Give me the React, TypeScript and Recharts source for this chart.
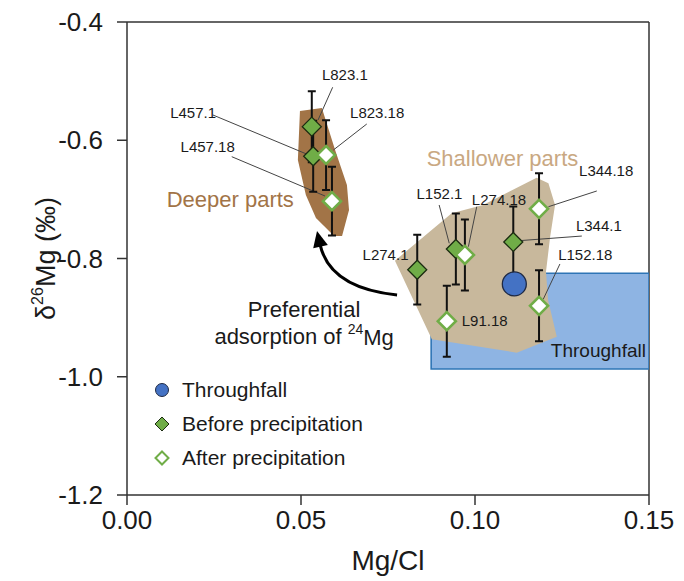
import React from "react";
import { ScatterChart, Scatter, XAxis, YAxis, ReferenceLine, Legend } from "recharts";

const FONT = '"Liberation Sans", Arial, sans-serif';

const xTicks = [0, 0.05, 0.1, 0.15];
const yTicks = [-1.2, -1.0, -0.8, -0.6, -0.4];

// samples before precipitation (filled diamonds)
const beforeNames = ["L823.1", "L457.1", "L274.1", "L152.1", "L344.1"];
const beforeX = [0.0531, 0.0535, 0.0834, 0.0945, 0.111];
const beforeY = [-0.577, -0.627, -0.819, -0.784, -0.772];
const beforeErr = [0.06, 0.06, 0.059, 0.06, 0.06];

// samples after precipitation (open diamonds)
const afterNames = ["L823.18", "L457.18", "L274.18", "L91.18", "L344.18", "L152.18"];
const afterX = [0.0572, 0.0589, 0.0971, 0.0919, 0.1184, 0.1184];
const afterY = [-0.625, -0.703, -0.794, -0.906, -0.716, -0.88];
const afterErr = [0.059, 0.058, 0.06, 0.06, 0.06, 0.06];

const throughfallX = [0.1113];
const throughfallY = [-0.843];

// outlines of the shaded regions
const deeperX = [0.0497, 0.056, 0.0598, 0.0632, 0.0638, 0.0618, 0.0595, 0.0543, 0.0514, 0.0491];
const deeperY = [-0.5505, -0.5455, -0.6165, -0.6757, -0.718, -0.762, -0.762, -0.7315, -0.6926, -0.6334];
const shallowX = [0.077, 0.0933, 0.1023, 0.1177, 0.1211, 0.123, 0.1216, 0.1204, 0.121, 0.1235, 0.112, 0.0876];
const shallowY = [-0.8037, -0.7236, -0.7095, -0.6633, -0.6728, -0.7095, -0.7631, -0.8223, -0.8702, -0.9323, -0.9593, -0.9367];
const boxX = [0.0874, 0.15, 0.15, 0.0874];
const boxY = [-0.825, -0.825, -0.987, -0.987];

// sample labels (left edge, middle) and leader lines
const labelText = ["L823.1", "L823.18", "L457.1", "L457.18", "L152.1", "L274.18", "L344.18", "L344.1", "L152.18", "L91.18", "L274.1"];
const labelX = [0.056, 0.0641, 0.0124, 0.0154, 0.0832, 0.0991, 0.1299, 0.129, 0.1239, 0.0962, 0.0677];
const labelY = [-0.488, -0.5539, -0.5534, -0.6114, -0.6897, -0.6994, -0.6515, -0.745, -0.794, -0.9057, -0.7929];

const leaderX = [
  0.0591, 0.0549, 0.0689, 0.0593, 0.0247, 0.0516, 0.0301, 0.0569, 0.0897,
  0.0926, 0.1005, 0.0981, 0.135, 0.1211, 0.1307, 0.1124, 0.1244, 0.1196,
];
const leaderY = [
  -0.5104, -0.5657, -0.5725, -0.6165, -0.5573, -0.6233, -0.6278, -0.6943, -0.7095,
  -0.7743, -0.7124, -0.78, -0.6858, -0.7124, -0.762, -0.77, -0.8093, -0.869,
];

// curved arrow: tail, control, head
const arrowX = [0.0776, 0.0583, 0.0546];
const arrowY = [-0.8617, -0.8499, -0.7535];

const legendItems = [
  { label: "Throughfall", kind: "circle" },
  { label: "Before precipitation", kind: "filled" },
  { label: "After precipitation", kind: "open" },
];

const zip = (xs: number[], ys: number[]) => xs.map((x, i) => ({ x, y: ys[i] }));

const before = beforeNames.map((name, i) => ({ name, x: beforeX[i], y: beforeY[i] }));
const after = afterNames.map((name, i) => ({ name, x: afterX[i], y: afterY[i] }));
const throughfall = zip(throughfallX, throughfallY);
const labels = labelText.map((text, i) => ({ text, x: labelX[i], y: labelY[i] }));

// error bar ends: pairs of (top, bottom) points
const errorEnds = [...zip(beforeX, beforeY).map((p, i) => ({ ...p, e: beforeErr[i] })), ...zip(afterX, afterY).map((p, i) => ({ ...p, e: afterErr[i] }))].flatMap(
  (p) => [
    { x: p.x, y: p.y + p.e },
    { x: p.x, y: p.y - p.e },
  ]
);

const GREEN = "#70AD47";

const noShape = () => <g />;

const toPath = (pts: { x: number; y: number }[], close: boolean) =>
  pts.map((q, i) => `${i ? "L" : "M"}${q.x},${q.y}`).join(" ") + (close ? " Z" : "");

const polygonLine = (fill: string, stroke = "none") => (p: any) => (
  <path d={toPath(p.points, true)} fill={fill} stroke={stroke} strokeWidth={1.6} />
);

const leaderLines = (p: any) => {
  const pts = p.points;
  let d = "";
  for (let i = 0; i + 1 < pts.length; i += 2) {
    d += `M${pts[i].x},${pts[i].y} L${pts[i + 1].x},${pts[i + 1].y} `;
  }
  return <path d={d} fill="none" stroke="#444" strokeWidth={1} />;
};

const errorLines = (p: any) => {
  const pts = p.points;
  const cap = 4;
  let d = "";
  for (let i = 0; i + 1 < pts.length; i += 2) {
    const a = pts[i];
    const b = pts[i + 1];
    d += `M${a.x},${a.y} L${b.x},${b.y} M${a.x - cap},${a.y} L${a.x + cap},${a.y} M${b.x - cap},${b.y} L${b.x + cap},${b.y} `;
  }
  return <path d={d} fill="none" stroke="#111" strokeWidth={2} />;
};

const arrowLine = (p: any) => {
  const [a, c, b] = p.points;
  const dx = b.x - c.x;
  const dy = b.y - c.y;
  const len = Math.hypot(dx, dy) || 1;
  const ux = dx / len;
  const uy = dy / len;
  const hl = 16;
  const hw = 7.5;
  const bx = b.x - ux * hl;
  const by = b.y - uy * hl;
  const head = `${b.x},${b.y} ${bx - uy * hw},${by + ux * hw} ${bx + uy * hw},${by - ux * hw}`;
  return (
    <g>
      <path d={`M${a.x},${a.y} Q${c.x},${c.y} ${bx + ux * 2},${by + uy * 2}`} fill="none" stroke="#000" strokeWidth={3} />
      <polygon points={head} fill="#000" />
    </g>
  );
};

const filledDiamond = (p: any) => {
  const { cx, cy } = p;
  const r = 9.5;
  return (
    <polygon
      points={`${cx},${cy - r} ${cx + r},${cy} ${cx},${cy + r} ${cx - r},${cy}`}
      fill={GREEN}
      stroke="#1b2b10"
      strokeWidth={1.3}
    />
  );
};

const openDiamond = (p: any) => {
  const { cx, cy } = p;
  const r = 9;
  return (
    <polygon
      points={`${cx},${cy - r} ${cx + r},${cy} ${cx},${cy + r} ${cx - r},${cy}`}
      fill="#fff"
      stroke={GREEN}
      strokeWidth={2.6}
    />
  );
};

const bigCircle = (p: any) => <circle cx={p.cx} cy={p.cy} r={12} fill="#4472C4" stroke="#1f2a44" strokeWidth={1.3} />;

const textShape = (size: number, color: string, anchor: "start" | "middle" = "start") => (p: any) => (
  <text
    x={p.cx}
    y={p.cy}
    fontSize={size}
    fill={color}
    fontFamily={FONT}
    textAnchor={anchor}
    dominantBaseline="central"
  >
    {p.payload.text}
  </text>
);

function LegendMarker({ kind }: { kind: string }) {
  if (kind === "circle") return <circle cx={10} cy={10} r={6.5} fill="#4472C4" stroke="#1f2a44" strokeWidth={1} />;
  if (kind === "filled")
    return <polygon points="10,3 17,10 10,17 3,10" fill={GREEN} stroke="#1b2b10" strokeWidth={1} />;
  return <polygon points="10,3.5 16.5,10 10,16.5 3.5,10" fill="#fff" stroke={GREEN} strokeWidth={2} />;
}

const renderLegend = () => (
  <div style={{ fontFamily: FONT, fontSize: 21, color: "#1a1a1a" }}>
    {legendItems.map((it) => (
      <div key={it.label} style={{ display: "flex", alignItems: "center", height: 34 }}>
        <svg width={20} height={20} style={{ marginRight: 10 }}>
          <LegendMarker kind={it.kind} />
        </svg>
        <span>{it.label}</span>
      </div>
    ))}
  </div>
);

const renderYLabel = (props: any) => {
  const vb = props.viewBox || { x: 0, y: 22, height: 473 };
  const cx = vb.x + 46;
  const cy = vb.y + vb.height / 2;
  return (
    <text
      x={cx}
      y={cy}
      transform={`rotate(-90 ${cx} ${cy})`}
      textAnchor="middle"
      dominantBaseline="central"
      fontSize={27}
      fontFamily={FONT}
      fill="#1a1a1a"
    >
      δ
      <tspan fontSize={16} dy={-9}>26</tspan>
      <tspan dy={9}>Mg (‰)</tspan>
    </text>
  );
};

const renderXLabel = (props: any) => {
  const vb = props.viewBox || { x: 127, y: 495, width: 522 };
  return (
    <text
      x={vb.x + vb.width / 2}
      y={vb.y + 65}
      textAnchor="middle"
      dominantBaseline="central"
      fontSize={28}
      fontFamily={FONT}
      fill="#1a1a1a"
    >
      Mg/Cl
    </text>
  );
};

export default function App() {
  const tick = { fontSize: 26, fill: "#1a1a1a", fontFamily: FONT };
  const axisLine = { stroke: "#333", strokeWidth: 1.5 };
  return (
    <div style={{ position: "absolute", left: 0, top: 0, background: "#fff" }}>
      <ScatterChart width={684} height={581} margin={{ top: 22, right: 35, left: 0, bottom: 0 }}>
        <XAxis
          type="number"
          dataKey="x"
          domain={[0, 0.15]}
          ticks={xTicks}
          tickFormatter={(v: number) => v.toFixed(2)}
          tick={tick}
          tickSize={10}
          tickMargin={6}
          axisLine={axisLine}
          tickLine={axisLine}
          height={86}
          allowDataOverflow
          label={renderXLabel}
        />
        <YAxis
          type="number"
          dataKey="y"
          domain={[-1.2, -0.4]}
          ticks={yTicks}
          tickFormatter={(v: number) => v.toFixed(1)}
          tick={tick}
          tickSize={10}
          tickMargin={14}
          axisLine={axisLine}
          tickLine={axisLine}
          width={127}
          allowDataOverflow
          label={renderYLabel}
        />
        <ReferenceLine y={-0.4} stroke="#333" strokeWidth={1.5} />
        <ReferenceLine x={0.15} stroke="#333" strokeWidth={1.5} />

        <Scatter data={zip(boxX, boxY)} shape={noShape} line={polygonLine("#8EB4E3", "#2E75B6")} isAnimationActive={false} />
        <Scatter data={zip(shallowX, shallowY)} shape={noShape} line={polygonLine("#C8B89C")} isAnimationActive={false} />
        <Scatter data={zip(deeperX, deeperY)} shape={noShape} line={polygonLine("#A27447")} isAnimationActive={false} />
        <Scatter data={zip(leaderX, leaderY)} shape={noShape} line={leaderLines} isAnimationActive={false} />
        <Scatter data={zip(arrowX, arrowY)} shape={noShape} line={arrowLine} isAnimationActive={false} />
        <Scatter data={errorEnds} shape={noShape} line={errorLines} isAnimationActive={false} />

        <Scatter name="Before precipitation" data={before} shape={filledDiamond} isAnimationActive={false} />
        <Scatter name="After precipitation" data={after} shape={openDiamond} isAnimationActive={false} />
        <Scatter name="Throughfall" data={throughfall} shape={bigCircle} isAnimationActive={false} />

        <Scatter data={labels} shape={textShape(15, "#1a1a1a")} isAnimationActive={false} />
        <Scatter data={[{ x: 0.0114, y: -0.701, text: "Deeper parts" }]} shape={textShape(22, "#A27447")} isAnimationActive={false} />
        <Scatter data={[{ x: 0.0861, y: -0.6317, text: "Shallower parts" }]} shape={textShape(22, "#C9A882")} isAnimationActive={false} />
        <Scatter data={[{ x: 0.1218, y: -0.9548, text: "Throughfall" }]} shape={textShape(19, "#1a1a1a")} isAnimationActive={false} />
        <Scatter data={[{ x: 0.0509, y: -0.8871, text: "Preferential" }]} shape={textShape(22, "#1a1a1a", "middle")} isAnimationActive={false} />
        <Scatter
          data={[{ x: 0.0509, y: -0.9323 }]}
          shape={(p: any) => (
            <text x={p.cx} y={p.cy} fontSize={22} fill="#1a1a1a" fontFamily={FONT} textAnchor="middle" dominantBaseline="central">
              adsorption of <tspan fontSize={14} dy={-8}>24</tspan>
              <tspan dy={8}>Mg</tspan>
            </text>
          )}
          isAnimationActive={false}
        />

        <Legend
          layout="vertical"
          align="center"
          verticalAlign="middle"
          wrapperStyle={{ left: 152, top: 373, width: 300 }}
          content={renderLegend}
        />
      </ScatterChart>
    </div>
  );
}
